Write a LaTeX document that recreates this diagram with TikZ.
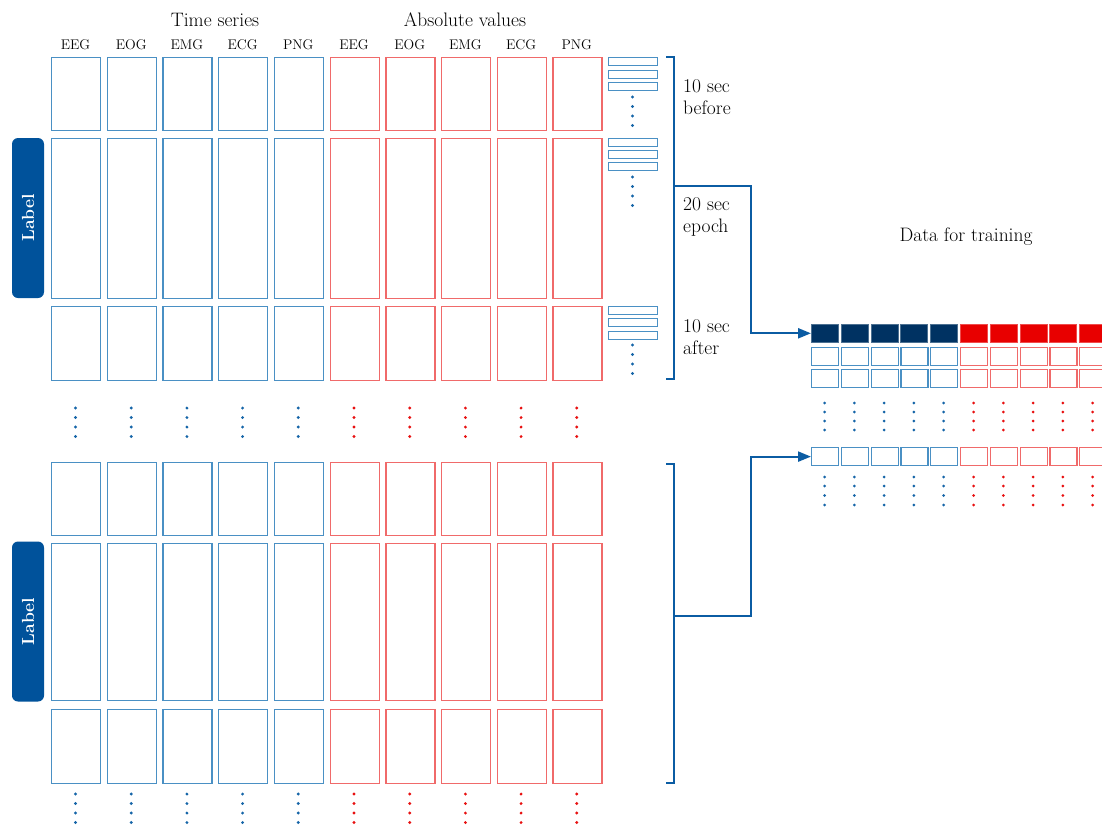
\documentclass[tikz,border=0pt]{standalone}
\usetikzlibrary{arrows.meta}
\definecolor{tsblue}{HTML}{4A90C4}
\definecolor{avred}{HTML}{F06A6A}
\definecolor{brblue}{HTML}{0B5CA3}
\definecolor{navy}{HTML}{003262}
\definecolor{fillred}{HTML}{E80000}
\definecolor{labelblue}{HTML}{00529B}
\definecolor{dotblue}{HTML}{1565A8}
\definecolor{dotred}{HTML}{E81010}
\begin{document}
\begin{tikzpicture}[x=1pt,y=-1pt,
  tsbox/.style={draw=tsblue,line width=1.3pt,inner sep=0pt,minimum width=49pt,anchor=north west},
  avbox/.style={draw=avred,line width=1.3pt,inner sep=0pt,minimum width=49pt,anchor=north west},
  smbox/.style={draw=tsblue,line width=1.2pt,inner sep=0pt,minimum width=49pt,minimum height=8pt,anchor=north west},
  trblue/.style={draw=tsblue,line width=1.2pt,inner sep=0pt,minimum width=27pt,minimum height=18pt,anchor=north west},
  trred/.style={draw=avred,line width=1.2pt,inner sep=0pt,minimum width=27pt,minimum height=18pt,anchor=north west},
  trnavy/.style={fill=navy,draw=navy!70,line width=0.6pt,inner sep=0pt,minimum width=27pt,minimum height=18pt,anchor=north west},
  trfred/.style={fill=fillred,draw=fillred!70,line width=0.6pt,inner sep=0pt,minimum width=27pt,minimum height=18pt,anchor=north west},
  pill/.style={fill=labelblue,rounded corners=6pt,minimum width=160pt,minimum height=32pt,rotate=90,text=white,font=\fontsize{17.5}{20}\selectfont\bfseries},
  bigtxt/.style={font=\fontsize{19.5}{23}\selectfont,inner sep=0pt},
  chtxt/.style={font=\fontsize{14}{16}\selectfont,inner sep=0pt},
  bracket/.style={draw=brblue,line width=2.2pt},
  conn/.style={draw=brblue,line width=2.2pt},
]
\clip (0,0) rectangle (1102,828);
\fill[white] (0,0) rectangle (1102,828);

% headers
\node[bigtxt] (hts) at (215,20) {Time series};
\node[bigtxt] (hav) at (465,20) {Absolute values};
\foreach \c/\t in {0/EEG,1/EOG,2/EMG,3/ECG,4/PNG}{
  \pgfmathsetmacro{\xb}{51+55.7*\c+24.5}
  \pgfmathsetmacro{\xr}{51+55.7*(\c+5)+24.5}
  \node[chtxt] (cht\c) at (\xb,45) {\t};
  \node[chtxt] (cha\c) at (\xr,45) {\t};
}

% grid of boxes
\foreach \g/\ya/\yb/\yc/\hb in {1/57/138/306/160, 2/462/543/709/157}{
  \foreach \c in {0,...,4}{
    \pgfmathsetmacro{\xb}{51+55.7*\c}
    \pgfmathsetmacro{\xr}{51+55.7*(\c+5)}
    \node[tsbox,minimum height=73pt] (ts-\g-1-\c) at (\xb,\ya) {};
    \node[tsbox,minimum height=\hb pt] (ts-\g-2-\c) at (\xb,\yb) {};
    \node[tsbox,minimum height=74pt] (ts-\g-3-\c) at (\xb,\yc) {};
    \node[avbox,minimum height=73pt] (av-\g-1-\c) at (\xr,\ya) {};
    \node[avbox,minimum height=\hb pt] (av-\g-2-\c) at (\xr,\yb) {};
    \node[avbox,minimum height=74pt] (av-\g-3-\c) at (\xr,\yc) {};
  }
}
% label pills
\node[pill] (lab1) at (28,218) {Label};
\node[pill] (lab2) at (28,621.5) {Label};

% vertical dots under groups
\foreach \y in {408,417.5,427,436.5,794,803.5,813,822.5}{
  \foreach \c in {0,...,4}{
    \pgfmathsetmacro{\xb}{51+55.7*\c+24.5}
    \pgfmathsetmacro{\xr}{51+55.7*(\c+5)+24.5}
    \fill[dotblue] (\xb,\y) circle (1.6);
    \fill[dotred] (\xr,\y) circle (1.6);
  }
}

% small stacked rects
\foreach \i/\y in {1/57,2/69.5,3/82,4/138,5/150,6/162,7/306,8/318,9/330.5}{
  \node[smbox] (sm\i) at (608,\y) {};
}
\foreach \y in {97,106.5,116,125.5,177,186.5,196,205.5,345,354.5,364,373.5}{
  \fill[dotblue] (632.5,\y) circle (1.6);
}

% brackets
\coordinate (b1t) at (666,57);
\coordinate (b1b) at (666,379);
\coordinate (b1m) at (674,186);
\draw[bracket] (b1t) -- (674,57) -- (674,379) -- (b1b);
\coordinate (b2t) at (666,464);
\coordinate (b2b) at (666,783);
\coordinate (b2m) at (674,616);
\draw[bracket] (b2t) -- (674,464) -- (674,783) -- (b2b);

% bracket texts
\node[bigtxt,anchor=base west] (t1a) at (683,92) {10 sec};
\node[bigtxt,anchor=base west] (t1b) at (683,114) {before};
\node[bigtxt,anchor=base west] (t2a) at (683,210) {20 sec};
\node[bigtxt,anchor=base west] (t2b) at (683,232) {epoch};
\node[bigtxt,anchor=base west] (t3a) at (683,332) {10 sec};
\node[bigtxt,anchor=base west] (t3b) at (683,354) {after};

% data for training
\node[bigtxt] (dft) at (966,237) {Data for training};
\foreach \j in {0,...,4}{
  \pgfmathsetmacro{\xb}{811+29.8*\j}
  \pgfmathsetmacro{\xr}{811+29.8*(\j+5)}
  \node[trnavy] (tr1-\j) at (\xb,324) {};
  \node[trfred] (tr1-\the\numexpr\j+5\relax) at (\xr,324) {};
  \node[trblue] (tr2-\j) at (\xb,347) {};
  \node[trred] (tr2-\the\numexpr\j+5\relax) at (\xr,347) {};
  \node[trblue] (tr3-\j) at (\xb,369) {};
  \node[trred] (tr3-\the\numexpr\j+5\relax) at (\xr,369) {};
  \node[trblue] (tr4-\j) at (\xb,447) {};
  \node[trred] (tr4-\the\numexpr\j+5\relax) at (\xr,447) {};
  \foreach \y in {403,412,421,430,477,486,495.5,505}{
    \fill[dotblue] (\xb+13.5,\y) circle (1.5);
    \fill[dotred] (\xr+13.5,\y) circle (1.5);
  }
}

% connectors
\draw[conn,-{Triangle[length=13pt,width=10pt]}] (b1m) -- ++(77,0) |- (tr1-0.west);
\draw[conn,-{Triangle[length=13pt,width=10pt]}] (b2m) -- ++(77,0) |- (tr4-0.west);
\end{tikzpicture}
\end{document}
